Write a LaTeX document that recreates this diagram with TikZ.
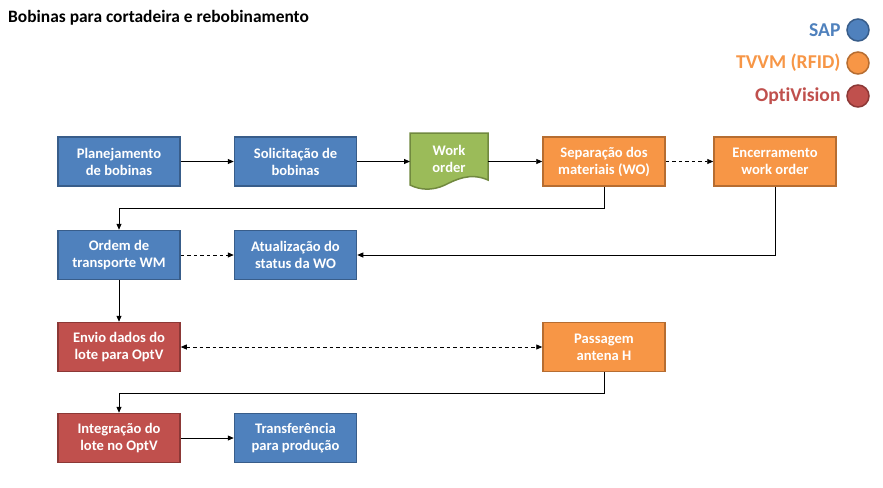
\documentclass[tikz,border=0pt]{standalone}
\usepackage{fontspec}
\setmainfont{Carlito}[Ligatures={NoCommon}]
\usetikzlibrary{arrows.meta}
\definecolor{sapf}{HTML}{4F81BD}\definecolor{sapd}{HTML}{385D8A}
\definecolor{orf}{HTML}{F79646}\definecolor{ord}{HTML}{B66D31}
\definecolor{redf}{HTML}{C0504D}\definecolor{redd}{HTML}{8C3836}
\definecolor{grf}{HTML}{9BBB59}\definecolor{grd}{HTML}{71893F}
\tikzset{
 boxfont/.style={font=\fontsize{14.6}{17}\selectfont\bfseries},
 box/.style={draw, line width=1.5pt, minimum width=122pt, minimum height=49pt, inner sep=0pt, align=center, text=white, boxfont},
 sap/.style={box, fill=sapf, draw=sapd},
 tv/.style={box, fill=orf, draw=ord},
 opt/.style={box, fill=redf, draw=redd},
 conn/.style={line width=0.8pt, -{Triangle[length=6pt,width=5pt]}},
 dconn/.style={conn, dash pattern=on 3.5pt off 3pt},
 leg/.style={font=\fontsize{19.6}{22}\selectfont\bfseries, anchor=east},
 dot/.style={circle, line width=1.5pt, minimum size=22pt, inner sep=0pt}
}
\begin{document}
\begin{tikzpicture}[x=1pt,y=-1pt]
\useasboundingbox[fill=white] (0,0) rectangle (883,487);
\node[anchor=west, inner sep=0pt, font=\fontsize{17.4}{20}\selectfont\bfseries] (title) at (8,18) {Bobinas para cortadeira e rebobinamento};
% legend
\node[dot, fill=sapf, draw=sapd] (d1) at (858,30) {};
\node[leg, text=sapf] (l1) at (844,30) {SAP};
\node[dot, fill=orf, draw=ord] (d2) at (858,63) {};
\node[leg, text=orf] (l2) at (844,63) {TVVM (RFID)};
\node[dot, fill=redf, draw=redd] (d3) at (858,96) {};
\node[leg, text=redf] (l3) at (844,96) {OptiVision};
% row 1
\node[sap] (plan) at (119,161.5) {Planejamento\\de bobinas};
\node[sap] (sol) at (295.5,161.5) {Solicitação de\\bobinas};
\draw[line width=1.5pt, draw=grd, fill=grf] (410,133) -- (488,133) -- (488,180)
  .. controls (470,172) and (455,180) .. (445,185) .. controls (432,191) and (420,190) .. (410,185) -- cycle;
\node[inner sep=0pt, align=center, text=white, boxfont] (wo) at (449,159) {Work\\order};
\coordinate (woL) at (410,161.5);
\coordinate (woR) at (488,161.5);
\node[tv] (sep) at (604,161.5) {Separação dos\\materiais (WO)};
\node[tv] (enc) at (775,161.5) {Encerramento\\work order};
% row 2
\node[sap] (ord) at (119,255) {Ordem de\\transporte WM};
\node[sap] (atu) at (295.5,255) {Atualização do\\status da WO};
% row 3
\node[opt] (env) at (119,347) {Envio dados do\\lote para OptV};
\node[tv] (pas) at (604,347) {Passagem\\antena H};
% row 4
\node[opt] (int) at (119,438) {Integração do\\lote no OptV};
\node[sap] (tra) at (295.5,438) {Transferência\\para produção};
% connectors
\draw[conn] (plan) -- (sol);
\draw[conn] (sol) -- (woL);
\draw[conn] (woR) -- (sep);
\draw[dconn] (sep) -- (enc);
\draw[conn] (sep.south) -- ++(0,22) -| (ord.north);
\draw[conn] (enc.south) |- (atu.east);
\draw[dconn] (ord) -- (atu);
\draw[conn] (ord) -- (env);
\draw[dconn, {Triangle[length=6pt,width=5pt]}-{Triangle[length=6pt,width=5pt]}] (env) -- (pas);
\draw[conn] (pas.south) -- ++(0,21) -| (int.north);
\draw[conn] (int) -- (tra);
\end{tikzpicture}
\end{document}
